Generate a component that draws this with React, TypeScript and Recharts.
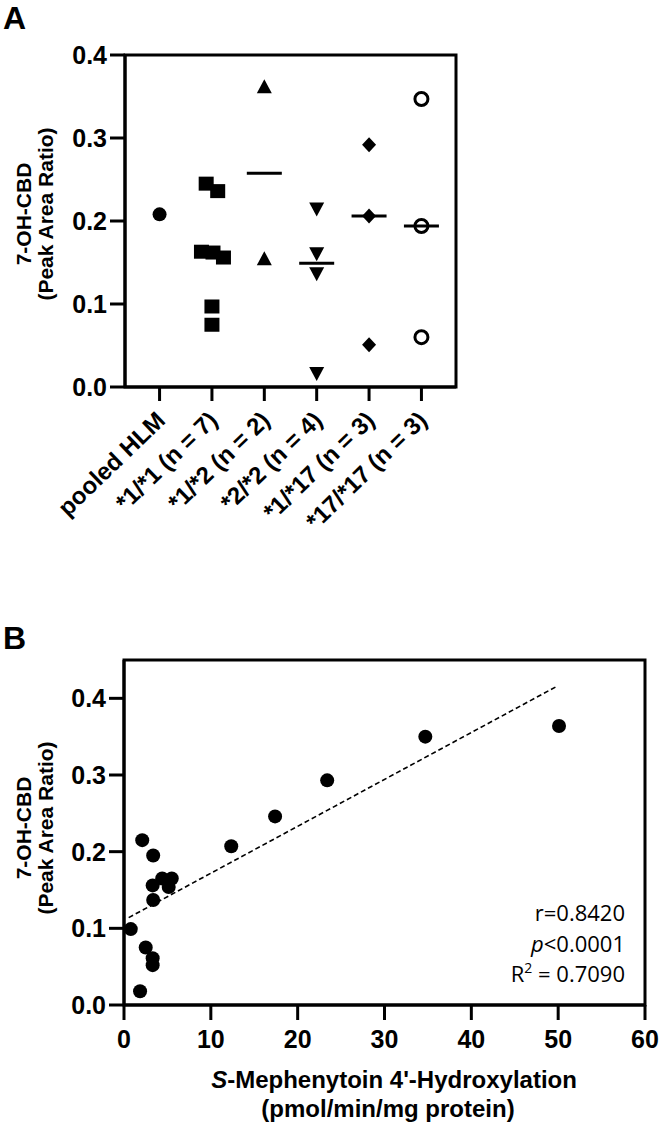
import React from 'react';
import { ScatterChart, Scatter, XAxis, YAxis, ReferenceLine, ReferenceArea } from 'recharts';

// ---------- Panel A data ----------
const categories = ['pooled HLM', '*1/*1 (n = 7)', '*1/*2 (n = 2)', '*2/*2 (n = 4)', '*1/*17 (n = 3)', '*17/*17 (n = 3)'];
const categoryTicks = [0, 1, 2, 3, 4, 5];
const pooledHLM = [0.208];
const cyp11 = [0.245, 0.236, 0.163, 0.162, 0.156, 0.097, 0.075];
const cyp11Jitter = [-0.11, 0.11, -0.2, 0.02, 0.22, 0, 0];
const cyp12 = [0.361, 0.154];
const cyp22 = [0.215, 0.161, 0.137, 0.017];
const cyp117 = [0.292, 0.206, 0.051];
const cyp1717 = [0.347, 0.194, 0.06];
const yTicksA = [0, 0.1, 0.2, 0.3, 0.4];

// ---------- Panel B data ----------
const mephenytoin = [0.78, 1.85, 2.1, 2.5, 3.3, 3.3, 3.3, 3.36, 3.36, 4.4, 5.15, 5.5, 12.35, 17.4, 23.4, 34.7, 50.1];
const ohcbd = [0.099, 0.018, 0.215, 0.075, 0.061, 0.052, 0.156, 0.195, 0.137, 0.165, 0.154, 0.165, 0.207, 0.246, 0.293, 0.35, 0.364];
const fitX = [0.54, 49.9];
const fitY = [0.114, 0.416];
const xTicksB = [0, 10, 20, 30, 40, 50, 60];
const yTicksB = [0, 0.1, 0.2, 0.3, 0.4];

const FONT = '"Liberation Sans", Arial, sans-serif';

const median = (arr: number[]) => {
  const s = [...arr].sort((a, b) => a - b);
  const m = Math.floor(s.length / 2);
  return s.length % 2 ? s[m] : (s[m - 1] + s[m]) / 2;
};

const toPoints = (vals: number[], cat: number, jitter?: number[]) =>
  vals.map((v, i) => ({ x: cat + (jitter ? jitter[i] : 0), y: v }));

const groupsA = [cyp11, cyp12, cyp22, cyp117, cyp1717];
const medianData = groupsA.map((g, i) => ({ x: i + 1, y: median(g) }));
const dataB = mephenytoin.map((x, i) => ({ x, y: ohcbd[i] }));
const fitData = fitX.map((x, i) => ({ x, y: fitY[i] }));

const FilledCircle = (p: any) => <circle cx={p.cx} cy={p.cy} r={7} fill="#000" />;
const SquareShape = (p: any) => <rect x={p.cx - 7.5} y={p.cy - 7} width={15} height={14} fill="#000" />;
const TriUp = (p: any) => (
  <polygon points={`${p.cx},${p.cy - 8} ${p.cx - 7.5},${p.cy + 6} ${p.cx + 7.5},${p.cy + 6}`} fill="#000" />
);
const TriDown = (p: any) => (
  <polygon points={`${p.cx},${p.cy + 8} ${p.cx - 7.5},${p.cy - 6} ${p.cx + 7.5},${p.cy - 6}`} fill="#000" />
);
const Diamond = (p: any) => (
  <polygon points={`${p.cx},${p.cy - 7.5} ${p.cx + 7},${p.cy} ${p.cx},${p.cy + 7.5} ${p.cx - 7},${p.cy}`} fill="#000" />
);
const OpenCircle = (p: any) => <circle cx={p.cx} cy={p.cy} r={6.5} fill="none" stroke="#000" strokeWidth={3} />;
const MedianLine = (p: any) => (
  <line x1={p.cx - 17.5} x2={p.cx + 17.5} y1={p.cy} y2={p.cy} stroke="#000" strokeWidth={3} />
);
const NoShape = () => <g />;

const CategoryTick = (props: any) => {
  const { x, y, payload } = props;
  return (
    <g transform={`translate(${x + 7},${y + 21}) rotate(-44)`}>
      <text x={0} y={0} textAnchor="end" fontSize={24} fontWeight="bold" fontFamily={FONT} fill="#000">
        {categories[payload.value]}
      </text>
    </g>
  );
};

const axisStyle = { stroke: '#000', strokeWidth: 3 };
const tickText = { fontSize: 25, fontWeight: 'bold', fill: '#000', fontFamily: FONT };

const YLabel = ({ cx, cy }: { cx: number; cy: number }) => (
  <g>
    <text transform={`translate(${cx},${cy}) rotate(-90)`} textAnchor="middle" fontSize={21} fontWeight="bold" fontFamily={FONT} fill="#000">
      7-OH-CBD
    </text>
    <text transform={`translate(${cx + 22},${cy}) rotate(-90)`} textAnchor="middle" fontSize={21} fontWeight="bold" fontFamily={FONT} fill="#000">
      (Peak Area Ratio)
    </text>
  </g>
);

export default function App() {
  return (
    <div style={{ position: 'absolute', left: 0, top: 0, width: 660, height: 1124, background: '#fff' }}>
      <div style={{ position: 'absolute', left: 0, top: 0 }}>
        <ScatterChart width={660} height={560} margin={{ top: 55, right: 204, bottom: 0, left: 0 }}>
          <XAxis
            type="number"
            dataKey="x"
            domain={[-0.66, 5.66]}
            ticks={categoryTicks}
            interval={0}
            allowDataOverflow
            height={173}
            tick={<CategoryTick />}
            tickSize={14}
            tickMargin={0}
            axisLine={axisStyle}
            tickLine={axisStyle}
          />
          <YAxis
            type="number"
            dataKey="y"
            domain={[0, 0.4]}
            ticks={yTicksA}
            interval={0}
            width={125}
            tick={tickText}
            tickFormatter={(v: number) => v.toFixed(1)}
            tickSize={15}
            tickMargin={3}
            axisLine={axisStyle}
            tickLine={axisStyle}
          />
          <ReferenceArea x1={-0.66} x2={5.66} y1={0} y2={0.4} fill="none" stroke="#000" strokeWidth={3} ifOverflow="visible" />
          <Scatter data={toPoints(pooledHLM, 0)} shape={FilledCircle} isAnimationActive={false} />
          <Scatter data={toPoints(cyp11, 1, cyp11Jitter)} shape={SquareShape} isAnimationActive={false} />
          <Scatter data={toPoints(cyp12, 2)} shape={TriUp} isAnimationActive={false} />
          <Scatter data={toPoints(cyp22, 3)} shape={TriDown} isAnimationActive={false} />
          <Scatter data={toPoints(cyp117, 4)} shape={Diamond} isAnimationActive={false} />
          <Scatter data={toPoints(cyp1717, 5)} shape={OpenCircle} isAnimationActive={false} />
          <Scatter data={medianData} shape={MedianLine} isAnimationActive={false} />
        </ScatterChart>
      </div>
      <div style={{ position: 'absolute', left: 0, top: 560 }}>
        <ScatterChart width={660} height={564} margin={{ top: 100, right: 15, bottom: 0, left: 0 }}>
          <XAxis
            type="number"
            dataKey="x"
            domain={[0, 60]}
            ticks={xTicksB}
            interval={0}
            height={119}
            tick={tickText}
            tickSize={15}
            tickMargin={10}
            axisLine={axisStyle}
            tickLine={axisStyle}
          />
          <YAxis
            type="number"
            dataKey="y"
            domain={[0, 0.45]}
            ticks={yTicksB}
            interval={0}
            width={124}
            tick={tickText}
            tickFormatter={(v: number) => v.toFixed(1)}
            tickSize={15}
            tickMargin={3}
            axisLine={axisStyle}
            tickLine={axisStyle}
          />
          <ReferenceArea x1={0} x2={60} y1={0} y2={0.45} fill="none" stroke="#000" strokeWidth={3} ifOverflow="visible" />
          <ReferenceLine
            segment={[fitData[0], fitData[1]]}
            stroke="#000"
            strokeWidth={1.6}
            strokeDasharray="5 3"
            ifOverflow="visible"
          />
          <Scatter data={dataB} shape={FilledCircle} isAnimationActive={false} />
          <Scatter data={fitData} shape={NoShape} isAnimationActive={false} />
        </ScatterChart>
      </div>
      <svg width={660} height={1124} style={{ position: 'absolute', left: 0, top: 0, pointerEvents: 'none' }}>
        <text x={3} y={29} fontSize={32} fontWeight="bold" fontFamily={FONT} fill="#000">A</text>
        <text x={3} y={649} fontSize={32} fontWeight="bold" fontFamily={FONT} fill="#000">B</text>
        <YLabel cx={31} cy={214} />
        <YLabel cx={31} cy={828} />
        <text x={394} y={1088} textAnchor="middle" fontSize={24} fontWeight="bold" fontFamily={FONT} fill="#000">
          <tspan fontStyle="italic">S</tspan>-Mephenytoin 4'-Hydroxylation
        </text>
        <text x={388} y={1117} textAnchor="middle" fontSize={24} fontWeight="bold" fontFamily={FONT} fill="#000">
          (pmol/min/mg protein)
        </text>
        <g fontFamily='"Open Sans", sans-serif' fontSize={22} fill="#000" textAnchor="end">
          <text x={625} y={921}>r=0.8420</text>
          <text x={625} y={952}><tspan fontStyle="italic">p</tspan>&lt;0.0001</text>
          <text x={625} y={982}>R<tspan fontSize={14} dy={-9}>2</tspan><tspan dy={9}> = 0.7090</tspan></text>
        </g>
      </svg>
    </div>
  );
}
